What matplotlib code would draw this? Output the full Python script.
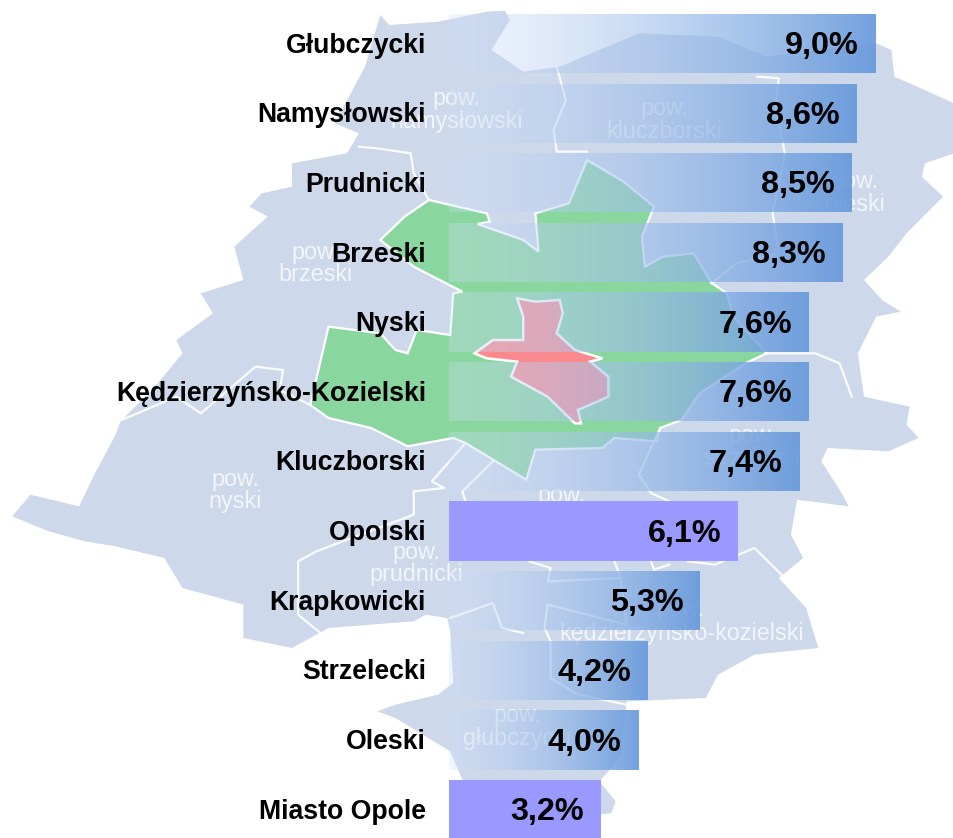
import numpy as np
import matplotlib
matplotlib.use("Agg")
import matplotlib.pyplot as plt
from matplotlib.patches import Polygon
from matplotlib.transforms import ScaledTranslation

plt.rcParams['font.family'] = ['Liberation Sans', 'DejaVu Sans']

# ---------- data ----------
categories = ["Głubczycki", "Namysłowski", "Prudnicki", "Brzeski", "Nyski",
              "Kędzierzyńsko-Kozielski", "Kluczborski", "Opolski", "Krapkowicki",
              "Strzelecki", "Oleski", "Miasto Opole"]
values = [9.0, 8.6, 8.5, 8.3, 7.6, 7.6, 7.4, 6.1, 5.3, 4.2, 4.0, 3.2]
value_labels = ["9,0%", "8,6%", "8,5%", "8,3%", "7,6%", "7,6%", "7,4%", "6,1%",
                "5,3%", "4,2%", "4,0%", "3,2%"]
highlighted = ["Opolski", "Miasto Opole"]

W, H = 954, 838
KX = 954 / 1568  # traced on a magnified view
KY = 1 / 3


def up(pts):      # points traced on upper half
    return [(x * KX, y * KY) for x, y in pts]


def lo(pts):      # points traced on lower half
    return [(x * KX, 418 + y * KY) for x, y in pts]


map_outline = up([(625, 45), (640, 75), (720, 65), (760, 50), (800, 35), (830, 32), (838, 60),
                  (808, 150), (860, 215), (920, 200), (1050, 100), (1180, 110), (1260, 170),
                  (1440, 130), (1465, 150), (1470, 230), (1520, 270), (1568, 310), (1568, 460),
                  (1520, 490), (1515, 530), (1550, 590), (1490, 700), (1460, 770), (1420, 840),
                  (1450, 900), (1480, 935), (1440, 950), (1410, 1060), (1420, 1190), (1495, 1220)]) + \
    lo([(1490, 20), (1510, 60), (1460, 100), (1360, 90), (1350, 130), (1385, 230), (1395, 265),
        (1310, 245), (1300, 350), (1320, 420), (1280, 480), (1325, 570), (1345, 690), (1240, 710),
        (1180, 770), (1160, 840), (1030, 850), (1020, 1010), (1000, 1060), (985, 1090), (1012, 1150),
        (1005, 1185), (985, 1190), (760, 1085), (740, 1000), (650, 900), (620, 880), (650, 860),
        (720, 830), (745, 795), (740, 640), (735, 600), (700, 590), (680, 610), (540, 630), (480, 690),
        (400, 660), (400, 560), (300, 510), (270, 420), (190, 385), (140, 370), (80, 340), (20, 295),
        (50, 230), (130, 265), (155, 170), (190, 50), (200, 0)]) + \
    up([(200, 1260), (250, 1170), (300, 1060), (290, 1020), (350, 940), (330, 880), (400, 840),
        (385, 740), (440, 650), (410, 620), (430, 580), (480, 560), (480, 490), (570, 460),
        (590, 400), (550, 370), (600, 200)])

green_region = up([(705, 600), (800, 640), (805, 665), (785, 672), (860, 720), (885, 755), (880, 640),
                   (935, 610), (965, 480), (1025, 545), (1075, 620), (1055, 710), (1060, 800),
                   (1090, 770), (1140, 760), (1170, 850), (1195, 880), (1205, 950), (1260, 1060),
                   (1225, 1090), (1150, 1180), (1120, 1260)]) + \
    lo([(1085, 30), (1080, 70), (1010, 60), (990, 90), (880, 95), (865, 185), (765, 75), (745, 60),
        (670, 85), (610, 30), (540, 0)]) + \
    up([(510, 1215), (540, 980), (625, 1000), (650, 1050), (670, 1060), (685, 990), (740, 1005),
        (745, 880), (760, 875), (680, 800), (625, 720), (665, 650)])

red_region = up([(850, 895), (880, 905), (920, 900), (925, 940), (915, 1000), (945, 1050), (990, 1075),
                 (970, 1085), (1000, 1130), (1000, 1190), (950, 1230), (955, 1270), (945, 1270),
                 (900, 1190), (840, 1130), (850, 1085), (800, 1075), (780, 1060), (810, 1020),
                 (860, 1020), (860, 950)])

borders = [
    up([(915, 200), (930, 300), (910, 390), (915, 455), (965, 455)]),
    up([(1245, 230), (1280, 235), (1275, 320), (1290, 460), (1270, 640), (1280, 760), (1210, 790), (1170, 850)]),
    up([(1260, 1060), (1340, 1060), (1380, 1090), (1400, 1190)]),
    up([(590, 440), (620, 445), (675, 460), (680, 520), (705, 600)]),
    up([(200, 1260), (290, 1190), (330, 1240), (420, 1100), (465, 1110), (460, 1170), (510, 1215)]),
    lo([(765, 75), (710, 190), (730, 210), (680, 220), (680, 290), (520, 400), (490, 430), (490, 590),
        (530, 650)]),
    lo([(810, 130), (760, 220), (765, 250)]),
    lo([(1085, 30), (1050, 170), (1070, 225), (1100, 250)]),
    lo([(870, 430), (905, 450), (900, 490), (1020, 480), (1010, 430)]),
    lo([(1020, 480), (1030, 620), (900, 560), (895, 630), (905, 670), (905, 780), (950, 830), (1030, 860)]),
    lo([(1130, 430), (1175, 440), (1240, 390), (1290, 480)]),
    lo([(740, 600), (810, 555), (825, 630), (860, 645)]),
    lo([(1070, 430), (1075, 455), (1100, 440)]),
]

map_labels = [("pow.", 750, 295), ("namysłowski", 750, 365), ("pow.", 1092, 327), ("kluczborski", 1092, 395),
              ("pow.", 518, 757), ("brzeski", 518, 823), ("pow.", 1405, 545), ("oleski", 1405, 612)]
map_labels_low = [("pow.", 387, 183), ("nyski", 387, 250), ("pow.", 923, 232), ("pow.", 685, 402),
                  ("prudnicki", 685, 468), ("kędzierzyńsko-kozielski", 1120, 645), ("pow.", 850, 893),
                  ("głubczycki", 850, 962), ("pow.", 1237, 52), ("strzelecki", 1237, 120), ("pow.", 1118, 575)]

# ---------- figure ----------
fig = plt.figure(figsize=(W / 100, H / 100), dpi=100, facecolor="white")

bg = fig.add_axes([0, 0, 1, 1], zorder=0)
bg.set_xlim(0, W)
bg.set_ylim(H, 0)
bg.axis("off")
bg.add_patch(Polygon(map_outline, closed=True, fc="#cdd8eb", ec="none"))
for line in borders:
    xs, ys = zip(*line)
    bg.plot(xs, ys, color="white", lw=1.6, solid_joinstyle="round", alpha=0.9)
bg.add_patch(Polygon(green_region, closed=True, fc="#8ad69f", ec="white", lw=1.6))
bg.add_patch(Polygon(red_region, closed=True, fc="#fa8a8e", ec="white", lw=1.8))
for txt, x, y in map_labels:
    bg.text(x * KX, y * KY, txt, color="white", fontsize=16.8, ha="center", va="center", alpha=0.75)
for txt, x, y in map_labels_low:
    bg.text(x * KX, 418 + y * KY, txt, color="white", fontsize=16.8, ha="center", va="center", alpha=0.75)

ax = fig.add_axes([449 / W, 0, (W - 449) / W, 1], zorder=1)
ax.patch.set_alpha(0)
y = np.arange(len(categories))
bars = ax.barh(y, values, height=0.85, color="none", edgecolor="none")
xlim = (0, (W - 449) / 47.35)
ylim = ((H - 43.5) / 69.65, -43.5 / 69.65)

# gradient fill colours for the ordinary bars
n = 256
t = np.linspace(0, 1, n)
c0, c1 = np.array([0.82, 0.88, 0.97]), np.array([0.40, 0.60, 0.86])
grad = np.zeros((1, n, 4))
grad[0, :, :3] = c0 + (c1 - c0) * t[:, None]
grad[0, :, 3] = 0.30 + 0.62 * t

for bar, name in zip(bars, categories):
    if name in highlighted:
        bar.set_facecolor("#9999ff")
    else:
        x0, w = bar.get_x(), bar.get_width()
        y0, h = bar.get_y(), bar.get_height()
        im = ax.imshow(grad, extent=(x0, x0 + w, y0 + h, y0), aspect="auto",
                       interpolation="bilinear", zorder=2)
        im.set_clip_path(bar)

labs = ax.bar_label(bars, labels=value_labels, padding=-12, fontsize=23.3, fontweight="bold",
                    color="black", zorder=5)
for lab in labs:
    lab.set_ha("right")
    lab.xyann = (lab.xyann[0], -1.8)
ax.set_xlim(*xlim)
ax.set_ylim(*ylim)
ax.set_yticks(y, categories)
ax.set_xticks([])
ax.tick_params(axis="y", length=0, pad=16.5, labelsize=19.2)
shift = ScaledTranslation(0, -1.5 / 72, fig.dpi_scale_trans)
for lab in ax.get_yticklabels():
    lab.set_fontweight("bold")
    lab.set_verticalalignment("center")
    lab.set_transform(lab.get_transform() + shift)
for s in ax.spines.values():
    s.set_visible(False)

fig.savefig("out.png", dpi=100)
